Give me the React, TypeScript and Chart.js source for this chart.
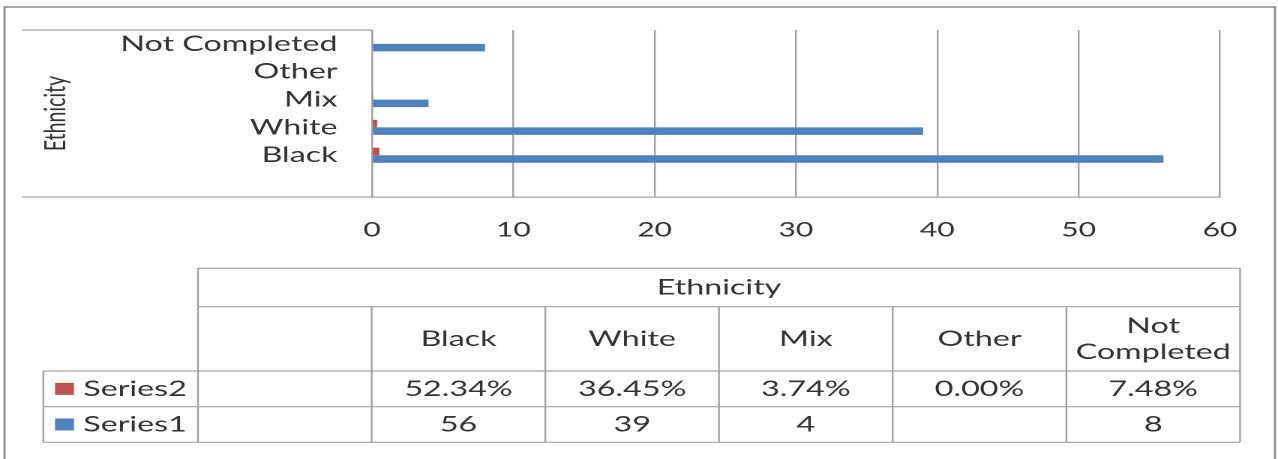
import React, { useEffect, useRef } from 'react';
import { Chart, registerables } from 'chart.js';

Chart.register(...registerables);

// ---- data ----
const categories = ['', 'Black', 'White', 'Mix', 'Other', 'Not Completed'];
const series1 = [null, 56, 39, 4, null, 8];
const series2 = [null, 0.5234, 0.3645, 0.0374, 0, 0.0748];
const seriesNames = ['Series2', 'Series1'];
const seriesColors = ['#C0504D', '#4F81BD'];
const xMin = 0;
const xMax = 60;
const xStep = 10;
const axisTitle = 'Ethnicity';

const fmtSeries2 = (v: number | null) => (v == null ? '' : (v * 100).toFixed(2) + '%');
const fmtSeries1 = (v: number | null) => (v == null ? '' : String(v));

// ---- layout (logical canvas, stretched horizontally like the reference) ----
const STRETCH = 1.5;
const W = 1278;
const H = 459;
const LW = W / STRETCH;
const FONT = 'Lato, "Open Sans", "DejaVu Sans", sans-serif';
const TEXT = '#333333';
const LINE = '#a3a3a3';

const framePlugin = {
  id: 'frame',
  beforeDraw(chart: any) {
    const ctx = chart.ctx;
    ctx.save();
    ctx.fillStyle = '#ffffff';
    ctx.fillRect(0, 0, chart.width, chart.height);
    ctx.restore();
  },
  afterDraw(chart: any) {
    const ctx = chart.ctx;
    const ca = chart.chartArea;
    const ys = chart.scales.y;
    ctx.save();
    // outer frame
    ctx.strokeStyle = '#8a8a8a';
    ctx.lineWidth = 1.4;
    ctx.beginPath();
    ctx.moveTo(3, H + 2);
    ctx.lineTo(3, 7);
    ctx.lineTo(850, 7);
    ctx.lineTo(850, H + 2);
    ctx.stroke();

    // category label box lines
    ctx.strokeStyle = LINE;
    ctx.lineWidth = 1.2;
    ctx.beginPath();
    ctx.moveTo(ys.left, ca.top);
    ctx.lineTo(ca.left, ca.top);
    ctx.moveTo(ys.left, ca.bottom);
    ctx.lineTo(ca.left, ca.bottom);
    ctx.stroke();

    // data table
    const tLeft = 132;
    const tRight = 826.7;
    const legLeft = 28.9;
    const rows = [268.3, 306.7, 371, 406.7, 442.3];
    const n = categories.length;
    const colW = (tRight - tLeft) / n;
    ctx.beginPath();
    ctx.moveTo(tLeft, rows[0]);
    ctx.lineTo(tRight, rows[0]);
    ctx.moveTo(tLeft, rows[1]);
    ctx.lineTo(tRight, rows[1]);
    ctx.moveTo(legLeft, rows[2]);
    ctx.lineTo(tRight, rows[2]);
    ctx.moveTo(legLeft, rows[3]);
    ctx.lineTo(tRight, rows[3]);
    ctx.moveTo(legLeft, rows[4]);
    ctx.lineTo(tRight, rows[4]);
    ctx.moveTo(tLeft, rows[0]);
    ctx.lineTo(tLeft, rows[4]);
    ctx.moveTo(tRight, rows[0]);
    ctx.lineTo(tRight, rows[4]);
    ctx.moveTo(legLeft, rows[2]);
    ctx.lineTo(legLeft, rows[4]);
    for (let i = 1; i < n; i++) {
      const x = tLeft + colW * i;
      ctx.moveTo(x, rows[1]);
      ctx.lineTo(x, rows[4]);
    }
    ctx.stroke();

    ctx.fillStyle = TEXT;
    ctx.font = `21.5px ${FONT}`;
    ctx.textAlign = 'center';
    ctx.textBaseline = 'middle';
    ctx.fillText(axisTitle, (tLeft + tRight) / 2, (rows[0] + rows[1]) / 2);

    const wrap = (text: string, maxW: number) => {
      const words = text.split(' ');
      const lines: string[] = [];
      let cur = '';
      for (const w of words) {
        const t = cur ? cur + ' ' + w : w;
        if (cur && ctx.measureText(t).width > maxW) {
          lines.push(cur);
          cur = w;
        } else cur = t;
      }
      if (cur) lines.push(cur);
      return lines;
    };

    categories.forEach((c, i) => {
      const cx = tLeft + colW * (i + 0.5);
      const lines = wrap(c, colW - 6);
      const lh = 26;
      const cy = (rows[1] + rows[2]) / 2;
      lines.forEach((ln, k) => {
        ctx.fillText(ln, cx, cy + (k - (lines.length - 1) / 2) * lh);
      });
    });

    const rowsData = [series2.map(fmtSeries2), series1.map(fmtSeries1)];
    rowsData.forEach((vals, r) => {
      const cy = (rows[2 + r] + rows[3 + r]) / 2;
      vals.forEach((v, i) => {
        ctx.fillText(v, tLeft + colW * (i + 0.5), cy);
      });
      // legend key
      ctx.fillStyle = seriesColors[r];
      ctx.fillRect(legLeft + 7.8, cy - 6, 12.6, 12);
      ctx.fillStyle = TEXT;
      ctx.textAlign = 'left';
      ctx.fillText(seriesNames[r], legLeft + 26.6, cy);
      ctx.textAlign = 'center';
    });

    ctx.restore();
  },
};

export default function App() {
  const ref = useRef<HTMLCanvasElement>(null);
  useEffect(() => {
    const chart = new Chart(ref.current as HTMLCanvasElement, {
      type: 'bar',
      data: {
        labels: categories,
        datasets: [
          { label: seriesNames[0], data: series2 as any, backgroundColor: seriesColors[0], borderWidth: 0 },
          { label: seriesNames[1], data: series1 as any, backgroundColor: seriesColors[1], borderWidth: 0 },
        ],
      },
      options: {
        indexAxis: 'y',
        responsive: false,
        maintainAspectRatio: false,
        animation: false,
        devicePixelRatio: 2,
        layout: { padding: { top: 30, left: 14.7, right: LW - 813.3, bottom: H - 197 - 45 } },
        datasets: { bar: { categoryPercentage: 0.54, barPercentage: 1 } } as any,
        plugins: {
          legend: { display: false },
          tooltip: { enabled: false },
        },
        scales: {
          x: {
            type: 'linear',
            min: xMin,
            max: xMax,
            ticks: { stepSize: xStep, padding: 21, color: TEXT, font: { family: FONT, size: 20 } },
            grid: { color: LINE, lineWidth: 1.2, drawTicks: false },
            border: { display: true, color: LINE, width: 1.2 },
            afterFit: (s: any) => { s.height = 45; },
          },
          y: {
            type: 'category',
            reverse: true,
            grid: { display: false, drawTicks: false },
            border: { display: true, color: LINE, width: 1.2 },
            ticks: { padding: 23, color: TEXT, autoSkip: false, font: { family: FONT, size: 21.5 } },
            title: {
              display: true,
              text: axisTitle,
              color: TEXT,
              font: { family: FONT, size: 19.5 },
              padding: { top: 11, bottom: 0 },
            },
            afterFit: (s: any) => {
              s.width = 248 - 14.7;
              s.paddingTop = 0;
              s.paddingBottom = 0;
            },
          },
        },
      },
      plugins: [framePlugin],
    });
    return () => chart.destroy();
  }, []);

  return (
    <div style={{ position: 'absolute', left: 0, top: 0, width: W, height: H, overflow: 'hidden', background: '#fff' }}>
      <div style={{ width: LW, height: H, transform: `scaleX(${STRETCH})`, transformOrigin: '0 0' }}>
        <canvas ref={ref} width={LW} height={H} style={{ display: 'block', width: LW, height: H }} />
      </div>
    </div>
  );
}
